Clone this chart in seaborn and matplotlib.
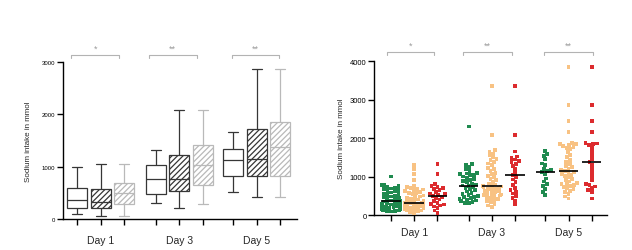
import numpy as np
import pandas as pd
import matplotlib
matplotlib.use("Agg")
import matplotlib.pyplot as plt
import seaborn as sns

# ---- data (sodium intake, mmol) ----
days = ["Day 1", "Day 3", "Day 5"]
groups = ["Group 1", "Group 2", "Group 3"]

day1_g1 = [89, 100, 110, 120, 130, 140, 150, 160, 170, 180, 190, 203,
           215, 230, 245, 260, 275, 290, 305, 320, 335, 350, 362,
           380, 400, 420, 440, 460, 480, 500, 520, 540, 560, 585,
           610, 630, 650, 670, 690, 710, 730, 750, 770, 780, 1000]
day1_g2 = [57, 80, 100, 115, 130, 145, 160, 170, 180, 190, 200, 205, 212,
           225, 240, 250, 260, 270, 280, 290, 300, 305, 310, 315, 320,
           328, 340, 360, 380, 400, 420, 440, 460, 480, 510, 540, 565,
           580, 600, 620, 640, 660, 680, 700, 720, 750, 900, 1060, 1200, 1300]
day1_g3 = [57, 120, 180, 220, 250, 270, 286, 320, 360, 400, 440, 470, 496,
           520, 540, 560, 600, 640, 680, 700, 720, 760, 800, 1060, 1320]

day3_g1 = [311, 320, 340, 360, 380, 400, 420, 440, 460, 475,
           490, 520, 550, 580, 610, 640, 670, 700, 730, 760,
           766, 790, 820, 850, 880, 910, 940, 970, 1000, 1030,
           1040, 1060, 1080, 1100, 1150, 1200, 1250, 1300, 1322, 2300]
day3_g2 = [216, 250, 290, 330, 360, 390, 420, 450, 470, 490, 505, 520, 530,
           550, 570, 590, 610, 630, 650, 670, 690, 710, 725, 740, 750,
           762, 790, 820, 860, 900, 940, 980, 1020, 1060, 1100, 1150, 1200,
           1230, 1300, 1340, 1380, 1420, 1460, 1500, 1550, 1600, 1650, 1680, 2080, 3350]
day3_g3 = [280, 380, 450, 500, 560, 600, 642, 700, 780, 850, 920, 980, 1030,
           1100, 1200, 1280, 1330, 1370, 1405, 1440, 1480, 1520, 1650, 2080, 3350]

day5_g1 = [521, 600, 680, 760, 800, 870, 950, 1050, 1110, 1140, 1160, 1200,
           1300, 1340, 1450, 1540, 1590, 1665]
day5_g2 = [426, 480, 540, 590, 630, 670, 700, 730, 760, 780, 800, 814,
           840, 870, 900, 940, 980, 1010, 1040, 1070, 1100, 1120, 1144,
           1170, 1200, 1240, 1280, 1330, 1380, 1430, 1500, 1560, 1640, 1716,
           1740, 1770, 1800, 1820, 1840, 1850, 1870, 2150, 2450, 2866, 3850]
day5_g3 = [426, 600, 650, 700, 740, 780, 814, 900, 1000, 1100, 1200, 1300, 1379,
           1450, 1550, 1650, 1750, 1820, 1850, 1860, 1870, 2150, 2450, 2866, 3850]

significance = ["*", "**", "**"]

# ---- layout / style ----
day_offset = [0.0, 3.35, 6.65]
box_edge = {"Group 1": "#363636", "Group 2": "#363636", "Group 3": "#b9b9b9"}
box_hatch = {"Group 1": None, "Group 2": "//////", "Group 3": "//////"}
dot_color = {"Group 1": "#1f8a4f", "Group 2": "#f8c283", "Group 3": "#dc2b2e"}

series = {
    ("Day 1", "Group 1"): day1_g1, ("Day 1", "Group 2"): day1_g2, ("Day 1", "Group 3"): day1_g3,
    ("Day 3", "Group 1"): day3_g1, ("Day 3", "Group 2"): day3_g2, ("Day 3", "Group 3"): day3_g3,
    ("Day 5", "Group 1"): day5_g1, ("Day 5", "Group 2"): day5_g2, ("Day 5", "Group 3"): day5_g3,
}
rows = []
for (day, grp), vals in series.items():
    pos = day_offset[days.index(day)] + groups.index(grp)
    for v in vals:
        rows.append({"day": day, "group": grp, "pos": pos, "value": v})
df = pd.DataFrame(rows)

pos_group = df.drop_duplicates("pos").set_index("pos")["group"].sort_index()
positions = pos_group.index.values
day_centers = [o + 1 for o in day_offset]


def group_at(x):
    return pos_group.iloc[np.abs(positions - x).argmin()]


sns.set_style("ticks")
plt.rcParams["font.family"] = ["Liberation Sans", "DejaVu Sans"]
plt.rcParams["hatch.linewidth"] = 0.9

fig = plt.figure(figsize=(6.32, 2.51), dpi=100)
ax1 = fig.add_axes([0.0997, 0.1235, 0.370, 0.6255])
ax2 = fig.add_axes([0.5918, 0.1394, 0.3687, 0.6135])

# ---- left: box plots, fliers hidden ----
sns.boxplot(data=df, x="pos", y="value", native_scale=True, color="white",
            saturation=1, width=0.85, showfliers=False, whis=1.5,
            linecolor="#363636", linewidth=0.9, ax=ax1)
for patch in ax1.patches:
    g = group_at(patch.get_path().vertices[:, 0].mean())
    patch.set_facecolor("white")
    patch.set_edgecolor(box_edge[g])
    if box_hatch[g]:
        patch.set_hatch(box_hatch[g])
for line in ax1.lines:
    xd = np.asarray(line.get_xdata(), dtype=float)
    if len(xd):
        line.set_color(box_edge[group_at(xd.mean())])

# ---- right: dot plots with median lines ----
sns.swarmplot(data=df, x="pos", y="value", hue="group", native_scale=True,
              palette=dot_color, marker="s", size=2.7, linewidth=0,
              legend=False, ax=ax2)
med = df.groupby("pos")["value"].median()
ax2.hlines(med.values, med.index - 0.42, med.index + 0.42, color="black",
           lw=1.2, zorder=5)

# ---- axes formatting ----
panels = [
    (ax1, (-0.6, 9.36), 3000, 4.3, -0.132, 3134, 60, -0.134,
     [(-0.25, 1.8), (-0.3, 1.75), (-0.07, 1.95)]),
    (ax2, (-0.73, 9.31), 4000, 5.5, -0.124, 4234, 80, -0.11,
     [(-0.17, 1.85), (-0.25, 1.87), (-0.05, 2.05)]),
]
for ax, xlim, ytop, ysize, ylab_x, br_y, br_drop, day_y, spans in panels:
    ax.set_xlim(*xlim)
    ax.set_ylim(0, ytop)
    ax.set_yticks(np.arange(0, ytop + 1, 1000))
    ax.set_xticks(positions)
    ax.set_xticklabels([])
    ax.tick_params(which="major", direction="out", length=4, width=1.0,
                   colors="black", labelsize=ysize, pad=1.5)
    ax.set_xlabel("")
    ax.set_ylabel("Sodium intake in mmol", fontsize=5.8)
    ax.yaxis.set_label_coords(ylab_x, 0.5)
    sns.despine(ax=ax)
    for s in ("left", "bottom"):
        ax.spines[s].set_linewidth(1.0)
        ax.spines[s].set_color("black")
    for c, d in zip(day_centers, days):
        ax.text(c, day_y, d, transform=ax.get_xaxis_transform(), ha="center",
                va="center", fontsize=7.5)
    for off, (a, b), star in zip(day_offset, spans, significance):
        ax.plot([off + a, off + a, off + b, off + b],
                [br_y - br_drop, br_y, br_y, br_y - br_drop],
                color="#b3b3b3", lw=0.8, clip_on=False)
        ax.text(off + (a + b) / 2, br_y + ytop * 0.015, star, ha="center",
                va="bottom", fontsize=6.5, color="#9a9a9a", clip_on=False)

fig.savefig("out.png", dpi=100)
